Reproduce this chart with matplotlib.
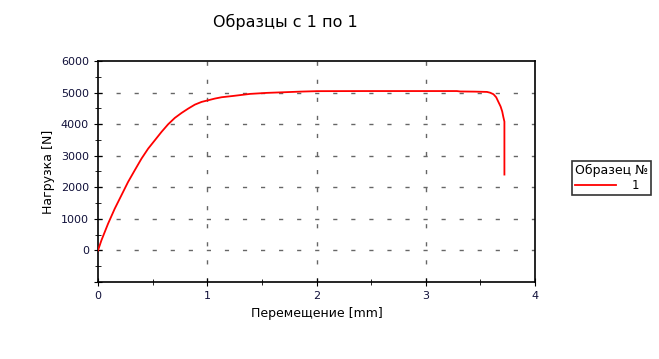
import matplotlib
matplotlib.use("Agg")
import matplotlib.pyplot as plt
from matplotlib.ticker import MultipleLocator, FuncFormatter

# Data
displacement = [0.0, 0.031, 0.092, 0.153, 0.214, 0.275, 0.336, 0.398, 0.459, 0.52, 0.581,
                0.642, 0.703, 0.765, 0.826, 0.887, 0.948, 1.009, 1.07, 1.131, 1.239,
                1.392, 1.545, 1.698, 1.85, 2.004, 2.46, 2.9, 3.285, 3.315, 3.45, 3.56,
                3.59, 3.62, 3.645, 3.665, 3.685, 3.70, 3.71, 3.72, 3.72]
load = [0, 317, 846, 1321, 1744, 2167, 2537, 2907, 3224, 3488, 3753,
        3996, 4197, 4355, 4493, 4619, 4704, 4757, 4810, 4852, 4894,
        4958, 4990, 5010, 5030, 5045, 5048, 5048, 5048, 5035, 5030, 5021,
        4995, 4947, 4850, 4704, 4560, 4400, 4230, 4080, 2403]
series_label = "1"
legend_title = "Образец №"
title = "Образцы с 1 по 1"
xlabel = "Перемещение [mm]"
ylabel = "Нагрузка [N]"

fig = plt.figure(figsize=(6.59, 3.59), dpi=100)
ax = fig.add_axes([98/659, 1-282/359, (535-98)/659, (282-61)/359])

ax.plot(displacement, load, color="red", lw=1.3, label=series_label, zorder=3)
ax.set_xlim(0, 4)
ax.set_ylim(-1000, 6000)
ax.xaxis.set_major_locator(MultipleLocator(1))
ax.xaxis.set_minor_locator(MultipleLocator(0.5))
ax.yaxis.set_major_locator(MultipleLocator(1000))
ax.yaxis.set_minor_locator(MultipleLocator(500))
ax.yaxis.set_major_formatter(FuncFormatter(lambda v, p: "" if v < 0 else f"{int(v)}"))
ax.tick_params(which="major", direction="inout", length=6, labelsize=8, colors="black",
               labelcolor="#10103a")
ax.tick_params(which="minor", direction="inout", length=4)
for s in ax.spines.values():
    s.set_linewidth(1.2)

# Dashed grid at interior majors
dash = (0, (3.0, 10.0))
for xv in [1, 2, 3]:
    ax.axvline(xv, color="#666666", lw=1, ls=dash, zorder=0)
for yv in [0, 1000, 2000, 3000, 4000, 5000]:
    ax.axhline(yv, color="#666666", lw=1, ls=dash, zorder=0)

fig.text(285.5/659, 1-22/359, title, fontsize=11.5, ha="center", va="center", color="black")
ax.set_xlabel(xlabel, fontsize=9)
ax.set_ylabel(ylabel, fontsize=9)

leg = fig.legend(loc="upper left", bbox_to_anchor=(572/659, 1-161/359), title=legend_title,
                 fontsize=8.5, title_fontsize=9, frameon=True, fancybox=False,
                 edgecolor="black", borderpad=0.25, handlelength=3.5, handletextpad=1.3,
                 labelspacing=0.2, borderaxespad=0)
leg.get_frame().set_linewidth(1.2)
leg._legend_box.align = "left"

fig.savefig("out.png", dpi=100)
